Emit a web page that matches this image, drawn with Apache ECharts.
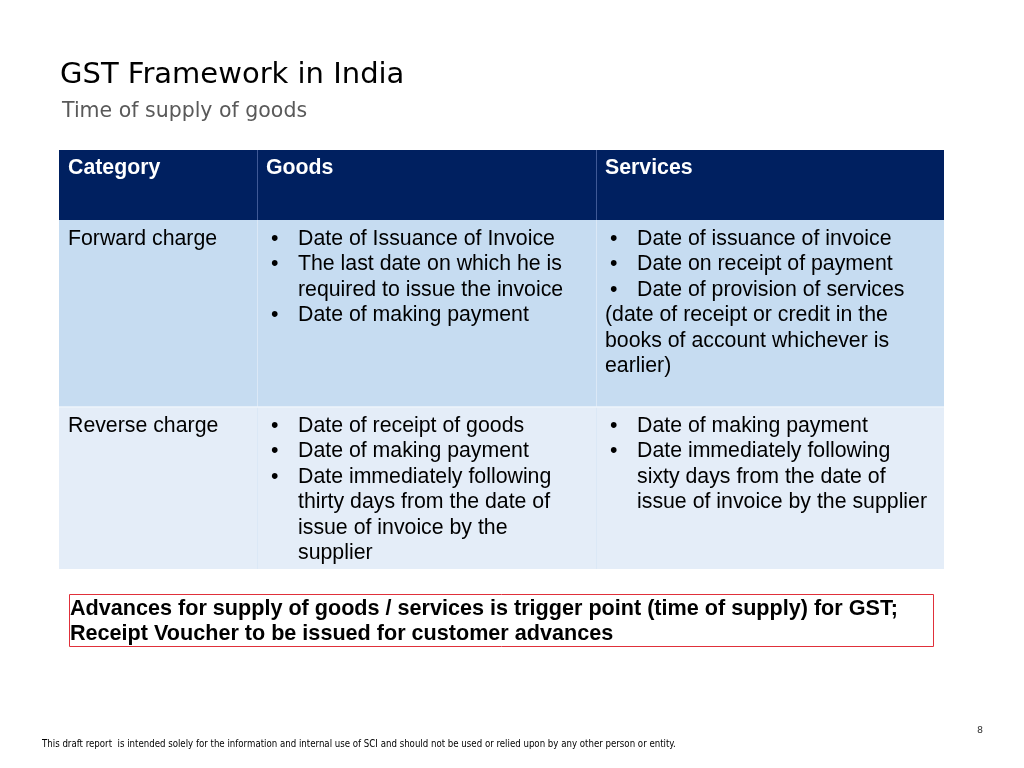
<!DOCTYPE html>
<html>
<head>
<meta charset="utf-8">
<script src="https://cdn.jsdelivr.net/npm/echarts@6/dist/echarts.min.js"></script>
<style>
  html, body { margin: 0; padding: 0; background: #fff; }
  #main { width: 1024px; height: 768px; }
</style>
</head>
<body>
<div id="main"></div>
<script>
// slide texts
const title = 'GST Framework in India';
const subtitle = 'Time of supply of goods';
const headers = ['Category', 'Goods', 'Services'];
const rowLabels = ['Forward charge', 'Reverse charge'];
// '•' = bullet line, '>' = indented continuation, '' = plain line
const goodsCells = [
  ['•Date of Issuance of Invoice', '•The last date on which he is', '>required to issue the invoice', '•Date of making payment'],
  ['•Date of receipt of goods', '•Date of making payment', '•Date immediately following', '>thirty days from the date of', '>issue of invoice by the', '>supplier']
];
const servicesCells = [
  ['•Date of issuance of invoice', '•Date on receipt of payment', '•Date of provision of services', '(date of receipt or credit in the', 'books of account whichever is', 'earlier)'],
  ['•Date of making payment', '•Date immediately following', '>sixty days from the date of', '>issue of invoice by the supplier']
];
const noteLines = [
  'Advances for supply of goods / services is trigger point (time of supply) for GST;',
  'Receipt Voucher to be issued for customer advances'
];
const footer = 'This draft report  is intended solely for the information and internal use of SCI and should not be used or relied upon by any other person or entity.';
const pageNo = '8';

// layout
const colX = [59, 257, 596, 944];
const rowY = [150, 220, 407, 569];
const rowFill = ['#002060', '#c6dcf1', '#e4edf8'];
const lineH = 25.5;
const bodyFont = '21.3px "Liberation Sans", Arial, sans-serif';

const chart = echarts.init(document.getElementById('main'), null, { renderer: 'canvas' });
const g = [];

g.push({ type: 'text', x: 60, y: 75, style: { text: title, font: '29px "DejaVu Sans", Verdana, sans-serif', fill: '#000', verticalAlign: 'middle' } });
g.push({ type: 'text', x: 62, y: 112, style: { text: subtitle, font: '20.5px "DejaVu Sans", Verdana, sans-serif', fill: '#595959', verticalAlign: 'middle' } });

// cell backgrounds
for (let r = 0; r < 3; r++) {
  g.push({ type: 'rect', shape: { x: colX[0], y: rowY[r], width: colX[3] - colX[0], height: rowY[r + 1] - rowY[r] }, style: { fill: rowFill[r] } });
}
// grid lines
for (let c = 1; c < 3; c++) {
  g.push({ type: 'line', shape: { x1: colX[c] + 0.5, y1: rowY[0], x2: colX[c] + 0.5, y2: rowY[1] }, style: { stroke: '#3f5996', lineWidth: 1 } });
  g.push({ type: 'line', shape: { x1: colX[c] + 0.5, y1: rowY[1], x2: colX[c] + 0.5, y2: rowY[3] }, style: { stroke: '#dbe8f6', lineWidth: 1 } });
}
g.push({ type: 'line', shape: { x1: colX[0], y1: rowY[2], x2: colX[3], y2: rowY[2] }, style: { stroke: '#eef4fb', lineWidth: 1.5 } });

// header texts
headers.forEach((h, i) => {
  g.push({ type: 'text', x: colX[i] + 9, y: 168, style: { text: h, font: 'bold 21.3px "Liberation Sans", Arial, sans-serif', fill: '#fff', verticalAlign: 'middle' } });
});

function cellLines(lines, x0, y0) {
  lines.forEach((ln, i) => {
    const y = y0 + i * lineH;
    let x = x0, txt = ln;
    if (ln[0] === '•') {
      g.push({ type: 'text', x: x0 + 5, y: y, style: { text: '•', font: bodyFont, fill: '#000', verticalAlign: 'middle' } });
      txt = ln.slice(1); x = x0 + 32;
    } else if (ln[0] === '>') {
      txt = ln.slice(1); x = x0 + 32;
    }
    g.push({ type: 'text', x: x, y: y, style: { text: txt, font: bodyFont, fill: '#000', verticalAlign: 'middle' } });
  });
}

rowLabels.forEach((lab, r) => {
  const y0 = rowY[r + 1] + 19;
  g.push({ type: 'text', x: colX[0] + 9, y: y0, style: { text: lab, font: bodyFont, fill: '#000', verticalAlign: 'middle' } });
  cellLines(goodsCells[r], colX[1] + 9, y0);
  cellLines(servicesCells[r], colX[2] + 9, y0);
});

// note box
g.push({ type: 'rect', shape: { x: 69.5, y: 594.5, width: 864, height: 52 }, style: { fill: 'none', stroke: '#e0303a', lineWidth: 1 } });
noteLines.forEach((t, i) => {
  g.push({ type: 'text', x: 70, y: 609 + i * 25.5, style: { text: t, font: 'bold 21.6px "Liberation Sans", Arial, sans-serif', fill: '#000', verticalAlign: 'middle' } });
});

g.push({ type: 'text', x: 42, y: 744, style: { text: footer, font: '9.6px "DejaVu Sans Condensed", "DejaVu Sans", sans-serif', fill: '#000', verticalAlign: 'middle' } });
g.push({ type: 'text', x: 977, y: 731, style: { text: pageNo, font: '9.5px "DejaVu Sans", sans-serif', fill: '#333', verticalAlign: 'middle' } });

chart.setOption({ animation: false, graphic: { elements: g } });
</script>
</body>
</html>
